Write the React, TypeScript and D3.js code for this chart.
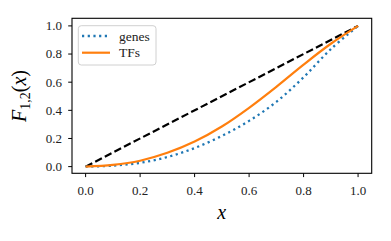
import React from 'react';
import * as d3 from 'd3';

// values
const xs = [0, 0.1, 0.2, 0.3, 0.4, 0.5, 0.6, 0.7, 0.8, 0.9, 1.0];
const genes = [0, 0.007, 0.027, 0.068, 0.132, 0.218, 0.325, 0.46, 0.635, 0.835, 1.0];
const tfs = [0, 0.012, 0.042, 0.098, 0.178, 0.285, 0.418, 0.567, 0.725, 0.873, 1.0];
const diagonal = [0, 1];
const ticks = [0, 0.2, 0.4, 0.6, 0.8, 1.0];
const legendLabels = ['genes', 'TFs'];

const W = 391;
const H = 241;
const plot = { left: 72, right: 371.7, top: 18.3, bottom: 173.3 };
const serif = '"Liberation Serif", "DejaVu Serif", serif';

export default function App() {
  const x = d3.scaleLinear().domain([-0.05, 1.05]).range([plot.left, plot.right]);
  const y = d3.scaleLinear().domain([-0.0475, 1.054]).range([plot.bottom, plot.top]);

  const line = d3.line<[number, number]>()
    .x(d => x(d[0]))
    .y(d => y(d[1]))
    .curve(d3.curveCatmullRom.alpha(0.5));

  const genesPath = line(xs.map((v, i) => [v, genes[i]] as [number, number])) || '';
  const tfsPath = line(tfs.map((v, i) => [xs[i], v] as [number, number])) || '';
  const diagPath = d3.line<number>().x(d => x(d)).y(d => y(d))(diagonal) || '';

  return (
    <svg width={W} height={H} style={{ position: 'absolute', left: 0, top: 0, background: '#fff' }}>
      {/* curves */}
      <path d={diagPath} fill="none" stroke="#000" strokeWidth={2.2} strokeDasharray="7.5,3.3" />
      <path d={genesPath} fill="none" stroke="#1f77b4" strokeWidth={2.3} strokeDasharray="2.2,3.5" />
      <path d={tfsPath} fill="none" stroke="#ff7f0e" strokeWidth={2.2} />

      {/* frame */}
      <rect x={plot.left} y={plot.top} width={plot.right - plot.left} height={plot.bottom - plot.top}
        fill="none" stroke="#000" strokeWidth={1.1} />

      {/* x ticks */}
      {ticks.map(t => (
        <g key={'x' + t} transform={`translate(${x(t)},${plot.bottom})`}>
          <line y1={0} y2={3.8} stroke="#000" strokeWidth={1} />
          <text y={22} textAnchor="middle" fontFamily={serif} fontSize={13} fill="#222">{t.toFixed(1)}</text>
        </g>
      ))}
      {/* y ticks */}
      {ticks.map(t => (
        <g key={'y' + t} transform={`translate(${plot.left},${y(t)})`}>
          <line x1={0} x2={-3.8} stroke="#000" strokeWidth={1} />
          <text x={-10} dy="0.34em" textAnchor="end" fontFamily={serif} fontSize={13} fill="#222">{t.toFixed(1)}</text>
        </g>
      ))}

      {/* axis labels */}
      <text x={221.7} y={219} textAnchor="middle" fontFamily={serif} fontStyle="italic" fontSize={20}>x</text>
      <text transform="translate(26,96) rotate(-90)" textAnchor="middle" fontFamily={serif} fontSize={20}>
        <tspan fontStyle="italic">F</tspan>
        <tspan fontSize={14} dy={4}>1,2</tspan>
        <tspan dy={-4}>(</tspan>
        <tspan fontStyle="italic">x</tspan>
        <tspan>)</tspan>
      </text>

      {/* legend */}
      <rect x={78.3} y={25.7} width={77.7} height={39.3} rx={3} fill="#fff" fillOpacity={0.8} stroke="#d0d0d0" strokeWidth={1} />
      <line x1={82} x2={110} y1={36} y2={36} stroke="#1f77b4" strokeWidth={2.3} strokeDasharray="2.2,3.5" />
      <line x1={82} x2={110} y1={52.7} y2={52.7} stroke="#ff7f0e" strokeWidth={2.2} />
      {legendLabels.map((l, i) => (
        <text key={l} x={119} y={40.5 + i * 16.8} fontFamily={serif} fontSize={13.5} fill="#222">{l}</text>
      ))}
    </svg>
  );
}
